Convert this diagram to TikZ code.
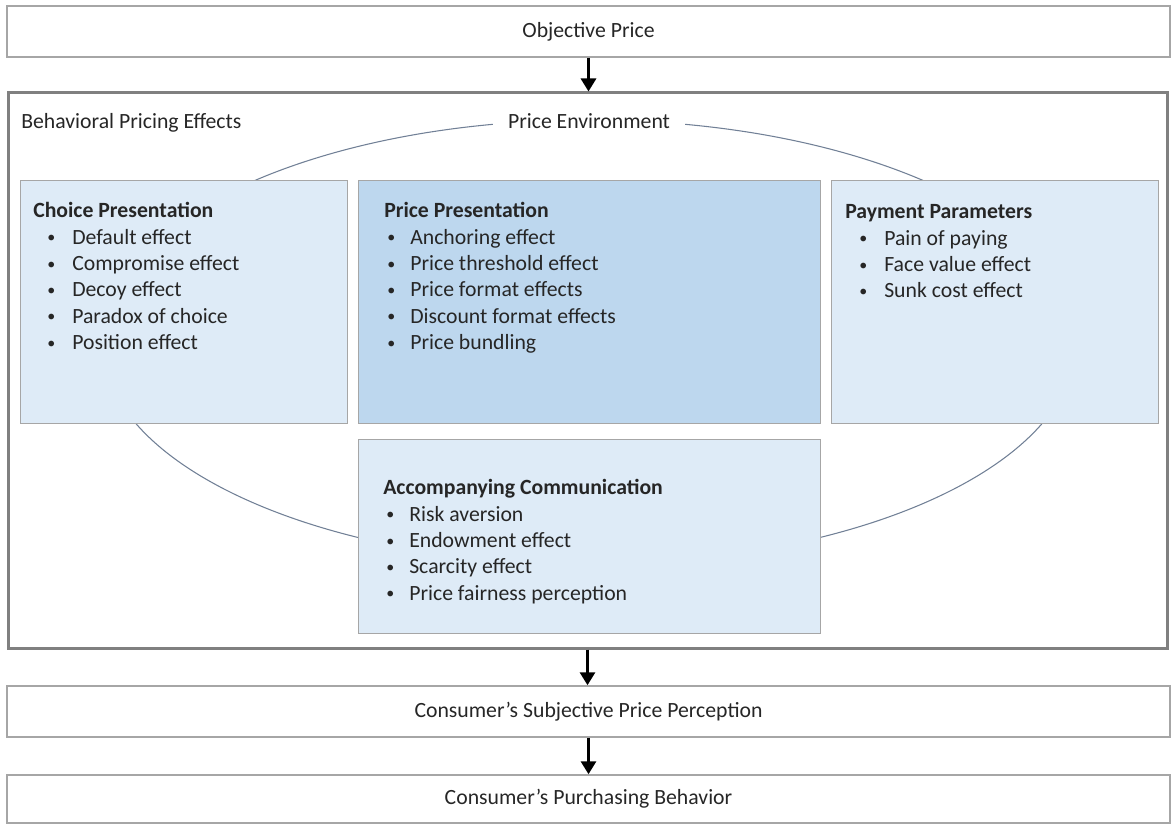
\documentclass[tikz,border=0pt]{standalone}
\usepackage{fontspec}
\setmainfont{Carlito}
\usepackage{xcolor}
\usepackage{tikz}
\usetikzlibrary{arrows.meta}
\usetikzlibrary{shapes}

\definecolor{stageline}{HTML}{A6A6A6}
\definecolor{frameline}{HTML}{808080}
\definecolor{paleblue}{HTML}{DEEBF7}
\definecolor{midblue}{HTML}{BDD7EE}
\definecolor{ringline}{HTML}{718096}

% one bullet line: optional indent of the bullet, then the text
\newcommand{\effect}[3][10.5pt]{\hspace*{#1}\makebox[#2][l]{\raisebox{1pt}{\fontsize{12}{12}\selectfont\textbullet}}#3}

\begin{document}
\begin{tikzpicture}[x=0.75pt, y=-0.75pt,
    every node/.style={font=\fontsize{16.3}{19.75}\selectfont, text=black!85},
    stage/.style={draw=stageline, line width=1.1pt, minimum width=872.25pt, inner sep=0pt},
    frame/.style={draw=frameline, line width=2.25pt, minimum width=869.25pt, minimum height=416.25pt, inner sep=0pt},
    group/.style={draw=stageline, line width=0.8pt, fill=paleblue, inner sep=0pt, anchor=north west},
    listing/.style={anchor=north west, inner sep=0pt, align=left},
    flow/.style={line width=2.25pt, -{Triangle[width=11.25pt,length=9.75pt]}},
    ring/.style={draw=ringline, line width=0.8pt}]
\useasboundingbox (0,0) rectangle (1172,824);

        \node[stage, minimum height=38.25pt] (objective) at (588.5,31.5) {Objective Price};
        \node[frame] (effects) at (587.5,370.5) {};
        \node[anchor=base west, inner sep=0pt] (effectslabel) at (21,128) {Behavioral Pricing Effects};

        \draw[ring] (589,342) ellipse (487 and 222);
        \node[fill=white, anchor=base, inner xsep=11pt, inner ysep=1pt] (environment) at (589,128) {Price Environment};

        \node[group, minimum width=245.25pt, minimum height=182.25pt] (choice) at (20,180) {};
        \node[group, fill=midblue, minimum width=346.5pt, minimum height=182.25pt] (pricing) at (358,180) {};
        \node[group, minimum width=245.25pt, minimum height=182.25pt] (payment) at (831,180) {};
        \node[group, minimum width=346.5pt, minimum height=145.5pt] (communication) at (358,439) {};

        \node[listing] (choicelist) at (33,199) {\strut\textbf{Choice Presentation}\\
            \effect{18.75pt}{Default effect}\\ \effect{18.75pt}{Compromise effect}\\
            \effect{18.75pt}{Decoy effect}\\ \effect{18.75pt}{Paradox of choice}\\
            \effect{18.75pt}{Position effect}};
        \node[listing] (pricinglist) at (384,199) {\strut\textbf{Price Presentation}\\
            \effect[2.25pt]{17.25pt}{Anchoring effect}\\ \effect[2.25pt]{17.25pt}{Price threshold effect}\\
            \effect[2.25pt]{17.25pt}{Price format effects}\\ \effect[2.25pt]{17.25pt}{Discount format effects}\\
            \effect[2.25pt]{17.25pt}{Price bundling}};
        \node[listing] (paymentlist) at (845,200) {\strut\textbf{Payment Parameters}\\
            \effect{18.75pt}{Pain of paying}\\ \effect{18.75pt}{Face value effect}\\
            \effect{18.75pt}{Sunk cost effect}};
        \node[listing] (communicationlist) at (383,476) {\strut\textbf{Accompanying Communication}\\
            \effect[2.25pt]{17.25pt}{Risk aversion}\\ \effect[2.25pt]{17.25pt}{Endowment effect}\\
            \effect[2.25pt]{17.25pt}{Scarcity effect}\\ \effect[2.25pt]{17.25pt}{Price fairness perception}};

        \node[stage, minimum height=38.25pt] (perception) at (588.5,711.5) {Consumer’s Subjective Price Perception};
        \node[stage, minimum height=36pt] (behavior) at (588.5,799) {Consumer’s Purchasing Behavior};

        \draw[flow] (objective.south) -- (objective.south |- effects.north);
        \draw[flow] (effects.south) -- (effects.south |- perception.north);
        \draw[flow] (perception.south) -- (behavior.north);
\end{tikzpicture}
\end{document}
